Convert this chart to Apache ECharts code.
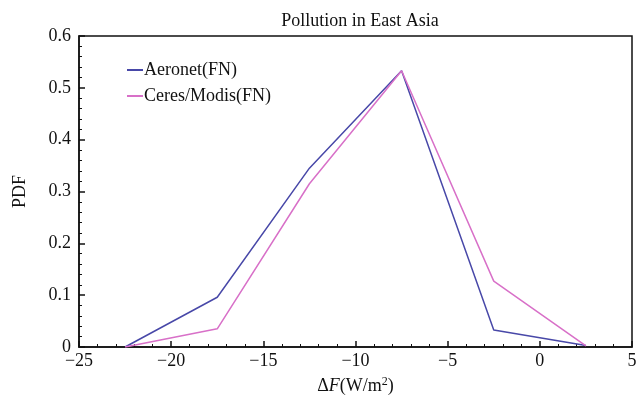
<!DOCTYPE html>
<html><head><meta charset="utf-8">
<script src="https://cdn.jsdelivr.net/npm/echarts@6/dist/echarts.min.js"></script>
<style>html,body{margin:0;padding:0;background:#fff}#c{width:640px;height:400px}</style>
</head><body><div id="c"></div>
<script>
const xValues = [-22.5, -17.5, -12.5, -7.5, -2.5, 2.5];
const aeronet = [0.0, 0.096, 0.345, 0.533, 0.033, 0.003];
const ceresModis = [0.0, 0.035, 0.315, 0.533, 0.127, 0.002];
const seriesNames = ['Aeronet(FN)', 'Ceres/Modis(FN)'];
const colors = ['#4848a8', '#d870c8'];

const font = 'Liberation Serif';
const chart = echarts.init(document.getElementById('c'));
chart.setOption({
  animation: false,
  backgroundColor: '#fff',
  title: { text: 'Pollution in East Asia', left: 355, top: 7, textAlign: 'center',
    textStyle: { fontFamily: font, fontSize: 18, fontWeight: 'normal', color: '#111' } },
  legend: { left: 122, top: 56, orient: 'vertical', itemWidth: 16, itemHeight: 2, itemGap: 8,
    icon: 'rect', textStyle: { fontFamily: font, fontSize: 18, color: '#111', padding: [0,0,0,-4] },
    data: seriesNames },
  grid: { left: 79, right: 8, top: 36, bottom: 53, show: true, borderColor: '#111', borderWidth: 1.5 },
  xAxis: { type: 'value', min: -25, max: 5, interval: 5,
    name: '{d|Δ}{f|F}{d|(W/m}{s|2}{d|)}', nameLocation: 'middle', nameGap: 29,
    nameTextStyle: { rich: { d: { fontFamily: font, fontSize: 18, color: '#111' },
      f: { fontFamily: font, fontSize: 18, fontStyle: 'italic', color: '#111' },
      s: { fontFamily: font, fontSize: 12, color: '#111', verticalAlign: 'top', padding: [0,0,8,0] } } },
    axisLine: { onZero: false, lineStyle: { color: '#111', width: 1.5 } },
    axisTick: { inside: true, length: 6, lineStyle: { color: '#111', width: 1.5 } },
    minorTick: { show: true, splitNumber: 5, length: 3, lineStyle: { color: '#111' } },
    axisLabel: { fontFamily: font, fontSize: 18, color: '#111', margin: 5,
      formatter: v => v < 0 ? '\u2212' + Math.abs(v) : String(v) },
    splitLine: { show: false } },
  yAxis: { type: 'value', min: 0, max: 0.6, interval: 0.1,
    name: 'PDF', nameLocation: 'middle', nameGap: 50,
    nameTextStyle: { fontFamily: font, fontSize: 18, color: '#111' },
    axisLine: { onZero: false, lineStyle: { color: '#111', width: 1.5 } },
    axisTick: { inside: true, length: 6, lineStyle: { color: '#111', width: 1.5 } },
    minorTick: { show: true, splitNumber: 5, length: 3, lineStyle: { color: '#111' } },
    axisLabel: { fontFamily: font, fontSize: 18, color: '#111', margin: 8,
      formatter: v => String(Math.round(v * 10) / 10) },
    splitLine: { show: false } },
  series: [
    { name: seriesNames[0], type: 'line', data: xValues.map((x, i) => [x, aeronet[i]]),
      symbol: 'none', color: colors[0], lineStyle: { width: 1.5, color: colors[0] } },
    { name: seriesNames[1], type: 'line', data: xValues.map((x, i) => [x, ceresModis[i]]),
      symbol: 'none', color: colors[1], lineStyle: { width: 1.5, color: colors[1] } }
  ]
});
</script></body></html>
